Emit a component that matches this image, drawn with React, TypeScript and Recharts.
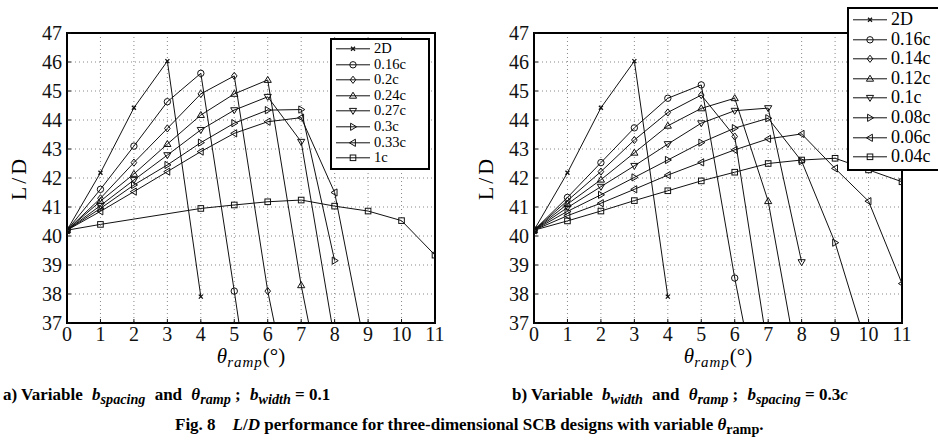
import React from "react";
import { CartesianGrid, Line, LineChart, ReferenceArea, XAxis, YAxis } from "recharts";

// θ_ramp positions (degrees) and L/D axis ticks
const thetaTicks = [0, 1, 2, 3, 4, 5, 6, 7, 8, 9, 10, 11];
const ldTicks = [37, 38, 39, 40, 41, 42, 43, 44, 45, 46, 47];

// a) variable b_spacing, b_width = 0.1 (index = θ_ramp)
const left2D = [40.2, 42.18, 44.42, 46.03, 37.91];
const left016 = [40.2, 41.61, 43.1, 44.63, 45.61, 38.1, 30.3];
const left020 = [40.2, 41.3, 42.53, 43.71, 44.9, 45.52, 38.1, 32.5];
const left024 = [40.2, 41.2, 42.14, 43.17, 44.17, 44.9, 45.38, 38.3, 32.5];
const left027 = [40.2, 41.05, 41.93, 42.79, 43.66, 44.34, 44.8, 43.25, 36.4];
const left030 = [40.2, 40.95, 41.76, 42.45, 43.22, 43.89, 44.34, 44.36, 39.15];
const left033 = [40.2, 40.85, 41.53, 42.22, 42.91, 43.54, 43.94, 44.08, 41.5, 35.6];
const left1c = [40.2, 40.4, null, null, 40.95, 41.07, 41.18, 41.24, 41.03, 40.86, 40.53, 39.34];

// b) variable b_width, b_spacing = 0.3c
const right2D = [40.2, 42.18, 44.42, 46.03, 37.91];
const right016 = [40.2, 41.33, 42.53, 43.73, 44.75, 45.21, 38.55, 32.7];
const right014 = [40.2, 41.22, 42.22, 43.31, 44.26, 44.86, 43.43, 36.0];
const right012 = [40.2, 41.1, 41.94, 42.87, 43.8, 44.4, 44.75, 41.2, 34.8];
const right010 = [40.2, 40.98, 41.7, 42.42, 43.17, 43.89, 44.32, 44.41, 39.1];
const right008 = [40.2, 40.85, 41.42, 42.02, 42.62, 43.22, 43.72, 44.06, 42.58, 39.77, 36.0];
const right006 = [40.2, 40.7, 41.13, 41.61, 42.1, 42.54, 42.97, 43.35, 43.52, 42.33, 41.2, 38.36];
const right004 = [40.2, 40.52, 40.86, 41.22, 41.56, 41.9, 42.2, 42.5, 42.62, 42.68, 42.28, 41.87];

type MarkerKind = "x" | "o" | "d" | "^" | "v" | ">" | "<" | "s";
type Series = { key: string; name: string; values: (number | null)[]; marker: MarkerKind };

const leftSeries: Series[] = [
  { key: "s2d", name: "2D", values: left2D, marker: "x" },
  { key: "s016", name: "0.16c", values: left016, marker: "o" },
  { key: "s020", name: "0.2c", values: left020, marker: "d" },
  { key: "s024", name: "0.24c", values: left024, marker: "^" },
  { key: "s027", name: "0.27c", values: left027, marker: "v" },
  { key: "s030", name: "0.3c", values: left030, marker: ">" },
  { key: "s033", name: "0.33c", values: left033, marker: "<" },
  { key: "s1c", name: "1c", values: left1c, marker: "s" },
];

const rightSeries: Series[] = [
  { key: "s2d", name: "2D", values: right2D, marker: "x" },
  { key: "s016", name: "0.16c", values: right016, marker: "o" },
  { key: "s014", name: "0.14c", values: right014, marker: "d" },
  { key: "s012", name: "0.12c", values: right012, marker: "^" },
  { key: "s010", name: "0.1c", values: right010, marker: "v" },
  { key: "s008", name: "0.08c", values: right008, marker: ">" },
  { key: "s006", name: "0.06c", values: right006, marker: "<" },
  { key: "s004", name: "0.04c", values: right004, marker: "s" },
];

const INK = "#111";
const FONT = "'Liberation Serif', 'Times New Roman', serif";

function buildRows(series: Series[]) {
  return thetaTicks.map((theta, i) => {
    const row: Record<string, number> = { theta };
    series.forEach((s) => {
      const v = s.values[i];
      if (v != null) row[s.key] = v;
    });
    return row;
  });
}

function Marker({ kind, cx, cy }: { kind: MarkerKind; cx: number; cy: number }) {
  const p = { fill: "none", stroke: INK, strokeWidth: 1 };
  const a = 3.6;
  const b = 2.4;
  switch (kind) {
    case "x":
      return <path d={`M${cx - 2},${cy - 2}L${cx + 2},${cy + 2}M${cx - 2},${cy + 2}L${cx + 2},${cy - 2}`} {...p} strokeWidth={1.3} />;
    case "o":
      return <circle cx={cx} cy={cy} r={3.2} {...p} />;
    case "d":
      return <polygon points={`${cx},${cy - a} ${cx + 2.8},${cy} ${cx},${cy + a} ${cx - 2.8},${cy}`} {...p} />;
    case "^":
      return <polygon points={`${cx},${cy - a} ${cx + a},${cy + b} ${cx - a},${cy + b}`} {...p} />;
    case "v":
      return <polygon points={`${cx},${cy + a} ${cx + a},${cy - b} ${cx - a},${cy - b}`} {...p} />;
    case ">":
      return <polygon points={`${cx + a},${cy} ${cx - b},${cy - a} ${cx - b},${cy + a}`} {...p} />;
    case "<":
      return <polygon points={`${cx - a},${cy} ${cx + b},${cy - a} ${cx + b},${cy + a}`} {...p} />;
    default:
      return <rect x={cx - 2.8} y={cy - 2.8} width={5.6} height={5.6} {...p} />;
  }
}

function LegendBox({ series, left, top, width, rowH, fontSize }: { series: Series[]; left: number; top: number; width: number; rowH: number; fontSize: number }) {
  return (
    <div style={{ position: "absolute", left, top, width, background: "#fff", border: "2px solid #000", padding: "1px 0 2px 4px", boxSizing: "border-box" }}>
      {series.map((s) => (
        <div key={s.key} style={{ display: "flex", alignItems: "center", height: rowH }}>
          <svg width={34} height={rowH} style={{ flex: "none" }}>
            <line x1={0} x2={34} y1={rowH / 2} y2={rowH / 2} stroke={INK} strokeWidth={1} />
            <Marker kind={s.marker} cx={17} cy={rowH / 2} />
          </svg>
          <span style={{ marginLeft: 4, fontSize, lineHeight: `${rowH}px`, whiteSpace: "nowrap" }}>{s.name}</span>
        </div>
      ))}
    </div>
  );
}

function Panel({ series, left, legend }: { series: Series[]; left: number; legend: React.ReactNode }) {
  const rows = buildRows(series);
  const tickStyle = { fill: INK, fontSize: 20, fontFamily: FONT };
  const blank = () => "";
  return (
    <div style={{ position: "absolute", left, top: 0, width: 450, height: 380 }}>
      <LineChart width={450} height={380} data={rows} margin={{ top: 33, right: 15, bottom: 27, left: 7 }}>
        <CartesianGrid stroke="#888" strokeDasharray="1 3" />
        <XAxis dataKey="theta" type="number" domain={[0, 11]} ticks={thetaTicks} interval={0} height={30} tick={tickStyle} tickSize={-4} tickMargin={8} tickLine={{ stroke: INK }} axisLine={{ stroke: "#000", strokeWidth: 2 }} allowDataOverflow />
        <XAxis xAxisId="top" orientation="top" type="number" domain={[0, 11]} ticks={thetaTicks} interval={0} height={0} tickFormatter={blank} tickSize={-4} tickLine={{ stroke: INK }} axisLine={{ stroke: "#000", strokeWidth: 2 }} />
        <YAxis type="number" domain={[37, 47]} ticks={ldTicks} interval={0} width={60} tick={tickStyle} tickSize={-4} tickMargin={9} tickLine={{ stroke: INK }} axisLine={{ stroke: "#000", strokeWidth: 2 }} allowDataOverflow />
        <YAxis yAxisId="right" orientation="right" type="number" domain={[37, 47]} ticks={ldTicks} interval={0} width={0} tickFormatter={blank} tickSize={-4} tickLine={{ stroke: INK }} axisLine={{ stroke: "#000", strokeWidth: 2 }} />
        <ReferenceArea x1={0} x2={11} y1={37} y2={47} fill="none" stroke="#000" strokeWidth={2} ifOverflow="visible" />
        {series.map((s) => (
          <Line
            key={s.key}
            dataKey={s.key}
            name={s.name}
            type="linear"
            stroke={INK}
            strokeWidth={1}
            connectNulls
            isAnimationActive={false}
            dot={(d: any) => (d.cx == null || d.cy == null ? <g key={`${s.key}-${d.index}`} /> : <Marker key={`${s.key}-${d.index}`} kind={s.marker} cx={d.cx} cy={d.cy} />)}
            activeDot={false}
          />
        ))}
      </LineChart>
      <div style={{ position: "absolute", left: 19, top: 178, transform: "translate(-50%, -50%) rotate(-90deg)", fontSize: 22, letterSpacing: 3, whiteSpace: "nowrap" }}>L/D</div>
      <div style={{ position: "absolute", left: 251, top: 357, transform: "translate(-50%, -50%)", fontSize: 21, whiteSpace: "nowrap" }}>
        <i>θ</i>
        <sub style={{ fontSize: 15, fontStyle: "italic", verticalAlign: "-4px", letterSpacing: 1 }}>ramp</sub>
        (°)
      </div>
      {legend}
    </div>
  );
}

const captionStyle: React.CSSProperties = { position: "absolute", fontSize: 17, fontWeight: "bold", whiteSpace: "nowrap", lineHeight: "20px" };
const gap = { marginLeft: 5 };

export default function App() {
  return (
    <div style={{ position: "absolute", left: 0, top: 0, width: 938, height: 443, overflow: "hidden", background: "#fff", fontFamily: FONT, color: "#000" }}>
      <Panel series={leftSeries} left={0} legend={<LegendBox series={leftSeries} left={330} top={38} width={100} rowH={15.6} fontSize={14.5} />} />
      <Panel series={rightSeries} left={467} legend={<LegendBox series={rightSeries} left={380} top={7} width={110} rowH={19.6} fontSize={18} />} />
      <div style={{ ...captionStyle, left: 3, top: 385 }}>
        a) Variable <i style={gap}>b</i><sub><i>spacing</i></sub> <span style={gap}>and</span> <i style={gap}>θ</i><sub><i>ramp</i></sub> ; <i style={gap}>b</i><sub><i>width</i></sub> = 0.1
      </div>
      <div style={{ ...captionStyle, left: 512, top: 385 }}>
        b) Variable <i style={gap}>b</i><sub><i>width</i></sub> <span style={gap}>and</span> <i style={gap}>θ</i><sub><i>ramp</i></sub> ; <i style={gap}>b</i><sub><i>spacing</i></sub> = 0.3<i>c</i>
      </div>
      <div style={{ ...captionStyle, left: 175, top: 415 }}>
        Fig. 8&nbsp;&nbsp;&nbsp; <i>L</i>/<i>D</i> performance for three-dimensional SCB designs with variable <i>θ</i><sub>ramp</sub>.
      </div>
    </div>
  );
}
